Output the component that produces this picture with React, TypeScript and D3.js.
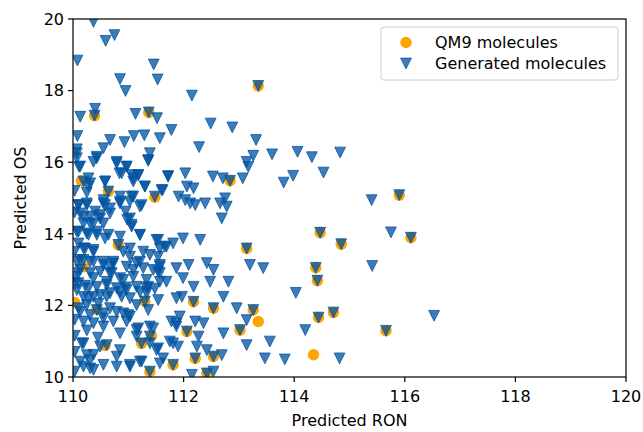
import React from "react";
import * as d3 from "d3";

const xTicks = [110, 112, 114, 116, 118, 120];
const yTicks = [10, 12, 14, 16, 18, 20];
const xLabel = "Predicted RON";
const yLabel = "Predicted OS";
const seriesNames = ["QM9 molecules", "Generated molecules"];

const qm9Points: [number, number][] = [
  [113.35, 18.13], [110.39, 17.30], [111.37, 17.39], [112.84, 15.48], [110.15, 15.48],
  [110.64, 15.18], [111.48, 15.02], [110.82, 13.69], [113.14, 13.59], [111.30, 12.11],
  [112.18, 12.10], [112.54, 11.92], [113.26, 11.87], [113.35, 11.55], [112.06, 11.27],
  [113.02, 11.31], [111.24, 10.94], [110.58, 10.88], [111.42, 11.15], [112.54, 10.57],
  [112.21, 10.52], [112.42, 10.10], [111.39, 10.15], [111.81, 10.34], [110.03, 12.08],
  [110.43, 11.89], [110.19, 13.08], [115.90, 15.08], [114.47, 14.03],
  [114.85, 13.71], [116.11, 13.89], [114.39, 13.05], [114.42, 12.69], [114.44, 11.66],
  [114.71, 11.80], [115.66, 11.29], [114.35, 10.62],
];

const generatedUpper: [number, number][] = [
  [110.37, 19.92], [110.59, 19.39], [110.75, 19.55], [110.08, 18.84], [111.46, 18.73],
  [110.85, 18.32], [111.53, 18.31], [110.95, 17.99], [113.35, 18.13], [112.15, 17.86],
  [110.40, 17.49], [110.39, 17.30], [111.37, 17.39], [110.13, 17.27], [111.13, 17.35],
  [111.52, 17.23], [112.49, 17.08], [112.88, 16.97], [111.78, 16.90], [110.08, 16.73],
  [110.67, 16.62], [110.93, 16.56], [111.10, 16.73], [111.29, 16.75], [111.57, 16.67],
  [113.31, 16.62], [112.28, 16.42], [110.55, 16.39], [110.07, 16.36], [113.26, 16.18],
  [113.60, 16.22], [113.14, 16.01], [113.17, 15.87], [112.03, 15.69], [112.53, 15.60],
  [112.71, 15.55], [112.84, 15.48], [113.07, 15.55], [112.06, 15.32], [112.18, 15.27],
  [110.43, 16.15], [110.07, 16.11], [110.37, 16.01], [110.79, 16.01], [111.36, 16.04],
  [110.11, 15.87], [110.97, 15.87], [110.84, 15.69], [111.18, 15.64], [111.09, 15.55],
  [111.72, 15.61], [110.28, 15.55], [110.28, 15.32], [110.58, 15.46], [111.30, 15.32],
  [111.62, 15.22], [110.85, 15.04], [111.09, 15.04],
];

const generatedLeftMid: [number, number][] = [
  [110.07, 16.25], [110.43, 16.11], [110.13, 15.88], [110.19, 15.46], [110.31, 15.41],
  [110.79, 15.97], [110.97, 15.88], [110.88, 15.69], [111.06, 15.64], [111.18, 15.64],
  [111.36, 16.06], [111.39, 16.25], [110.58, 15.46], [110.64, 15.18], [111.09, 15.46],
  [111.30, 15.32], [111.72, 15.60], [111.60, 15.22], [111.48, 15.04], [111.91, 15.04],
  [110.55, 14.94], [110.85, 14.90], [111.06, 15.04], [111.21, 14.76], [110.10, 14.80],
  [110.25, 14.80], [110.40, 14.62], [110.19, 14.48], [110.49, 14.43], [110.67, 14.57],
  [110.58, 14.80], [110.95, 14.62], [110.98, 14.39], [111.06, 14.20], [110.31, 14.29],
  [110.10, 14.06], [110.28, 13.97], [110.43, 13.97], [110.58, 13.87], [110.85, 13.92],
  [110.82, 13.69], [111.21, 13.97], [111.54, 13.83], [111.69, 13.64], [111.39, 13.41],
  [111.54, 13.36], [110.19, 13.59], [110.37, 13.55], [110.91, 13.50], [111.03, 13.36],
  [110.13, 13.27], [110.31, 13.22], [110.55, 13.22], [110.73, 13.17], [111.21, 13.22],
  [111.57, 13.13], [110.03, 15.20], [110.03, 14.60], [110.03, 13.50], [110.25, 15.15],
  [110.10, 14.80], [110.25, 14.85], [110.55, 14.85], [110.67, 14.71], [110.85, 14.85],
  [111.03, 14.90], [111.24, 14.80], [110.13, 14.57], [110.31, 14.48], [110.49, 14.52],
  [110.55, 14.29], [110.37, 14.29], [110.19, 14.29], [111.03, 14.43], [111.06, 14.25],
  [110.07, 14.06], [110.25, 14.01], [110.43, 14.06], [110.64, 13.97], [111.21, 13.97],
  [110.10, 13.73], [110.22, 13.59], [110.37, 13.50], [111.03, 13.59], [111.27, 13.50],
  [111.51, 13.83], [111.57, 13.59], [111.66, 13.64], [111.81, 13.73],
];

const generatedLeftLow: [number, number][] = [
  [110.13, 12.99], [110.37, 12.76], [110.61, 12.66], [110.91, 12.71], [111.09, 12.99],
  [111.33, 12.48], [111.54, 12.94], [111.57, 12.66], [111.30, 12.11], [111.54, 12.15],
  [111.87, 12.20], [110.07, 12.43], [110.28, 12.20], [110.49, 12.29], [110.67, 12.34],
  [110.85, 12.38], [111.03, 12.20], [111.15, 12.01], [110.13, 11.82], [110.31, 11.73],
  [110.55, 11.78], [110.79, 11.82], [111.00, 11.73], [110.73, 11.55], [110.55, 11.41],
  [110.85, 11.22], [111.15, 11.31], [111.45, 11.36], [111.24, 10.94], [111.39, 11.13],
  [111.54, 10.80], [111.81, 10.94], [111.87, 11.50], [110.19, 10.94], [110.61, 10.89],
  [110.85, 10.75], [110.37, 10.62], [110.13, 10.43], [110.31, 10.24], [110.55, 10.34],
  [110.79, 10.57], [111.03, 10.34], [111.24, 10.43], [111.39, 10.15], [111.81, 10.34],
  [111.63, 10.52], [110.04, 12.62], [110.22, 12.55], [110.46, 12.05], [110.95, 12.50],
  [110.25, 11.30], [110.03, 11.15], [110.45, 11.10], [110.70, 12.90], [110.03, 12.80],
  [110.03, 11.60], [110.03, 10.70], [110.03, 10.15],
  [110.07, 13.22], [110.19, 13.27], [110.37, 13.22], [110.55, 13.13], [110.67, 13.08],
  [110.73, 13.22], [110.97, 13.08], [111.15, 13.18], [111.27, 13.04], [111.45, 12.99],
  [111.57, 13.08], [111.87, 13.04], [110.10, 12.90], [110.31, 12.90], [110.49, 12.94],
  [110.67, 12.90], [110.85, 12.76], [111.09, 12.80], [111.33, 12.71], [111.57, 12.90],
  [110.10, 12.62], [110.28, 12.48], [110.43, 12.52], [110.61, 12.57], [110.79, 12.48],
  [110.97, 12.43], [111.15, 12.52], [111.36, 12.52], [111.69, 12.66], [111.21, 12.38],
  [110.88, 12.24], [110.61, 12.24], [110.37, 12.24], [110.19, 12.24], [111.33, 12.34],
  [110.10, 11.92], [110.25, 12.01], [110.43, 11.87], [110.67, 11.92], [110.91, 11.78],
  [111.03, 11.69], [111.36, 11.87], [110.55, 11.64], [110.37, 11.50], [110.19, 11.55],
  [110.97, 11.55], [111.18, 11.36], [111.39, 11.41], [111.78, 11.55], [111.87, 11.41],
  [110.16, 10.94], [110.49, 10.85], [111.39, 10.94], [111.15, 11.13], [111.51, 10.75],
  [111.75, 10.99], [111.90, 10.85], [110.25, 10.61], [110.31, 10.47], [110.19, 10.29],
  [110.37, 10.20], [110.79, 10.29], [111.03, 10.29], [111.21, 10.43], [111.57, 10.38],
  [111.48, 12.47],
];

const generatedRightMid: [number, number][] = [
  [112.03, 14.94], [112.12, 14.85], [112.21, 14.80], [112.39, 14.85], [112.66, 14.85],
  [112.75, 14.99], [112.78, 14.76], [112.69, 14.43], [111.99, 13.87], [112.30, 13.83],
  [113.14, 13.59], [113.20, 13.13], [113.44, 13.04], [112.09, 13.13], [112.42, 13.18],
  [112.54, 12.99], [111.99, 12.76], [112.18, 12.52], [112.48, 12.66], [112.81, 12.66],
  [111.97, 12.24], [112.18, 12.10], [112.54, 11.92], [112.72, 12.24], [112.96, 11.92],
  [113.26, 11.87], [113.14, 11.59], [112.06, 11.27], [112.21, 11.55], [112.36, 11.50],
  [112.72, 11.22], [113.02, 11.31], [113.14, 10.89], [113.56, 10.99], [112.24, 10.85],
  [112.27, 11.13], [112.42, 10.75], [112.54, 10.57], [112.69, 10.61], [112.15, 10.06],
  [112.21, 10.52], [112.42, 10.10], [112.54, 10.15], [113.47, 10.52], [111.93, 11.69],
];

const generatedFar: [number, number][] = [
  [114.06, 16.29], [114.32, 16.14], [114.83, 16.27], [113.98, 15.62], [113.81, 15.43],
  [114.53, 15.71], [115.40, 14.94], [115.90, 15.08], [114.47, 14.03], [114.85, 13.71],
  [115.75, 14.04], [116.11, 13.89], [115.41, 13.10], [114.39, 13.05], [114.42, 12.69],
  [114.03, 12.35], [114.44, 11.66], [114.71, 11.80], [114.20, 11.31], [115.66, 11.29],
  [116.53, 11.71], [113.83, 10.49], [114.82, 10.52],
];

const generatedPoints = [
  ...generatedUpper,
  ...generatedLeftMid,
  ...generatedLeftLow,
  ...generatedRightMid,
  ...generatedFar,
];

const W = 643;
const H = 432;
const M = { left: 73, right: 626, top: 19, bottom: 377 };
const FONT = "'DejaVu Sans', sans-serif";
const FS = 16;
const ORANGE = "#ffa500";
const BLUE = "#0053a0";

const triPath = (cx: number, cy: number, h: number) =>
  `M${cx - h},${cy - h}L${cx + h},${cy - h}L${cx},${cy + h}Z`;

export default function App() {
  const x = d3.scaleLinear().domain([110, 120]).range([M.left, M.right]);
  const y = d3.scaleLinear().domain([10, 20]).range([M.bottom, M.top]);
  const th = 5.4;

  return (
    <svg
      width={W}
      height={H}
      viewBox={`0 0 ${W} ${H}`}
      style={{ position: "absolute", left: 0, top: 0, background: "#fff" }}
      fontFamily={FONT}
    >
      <defs>
        <clipPath id="plotClip">
          <rect x={M.left} y={M.top} width={M.right - M.left} height={M.bottom - M.top} />
        </clipPath>
      </defs>
      <rect x={0} y={0} width={W} height={H} fill="#fff" />
      <g clipPath="url(#plotClip)">
        {qm9Points.map((d, i) => (
          <circle key={"q" + i} cx={x(d[0])} cy={y(d[1])} r={5.7} fill={ORANGE} />
        ))}
        {generatedPoints.map((d, i) => (
          <path
            key={"g" + i}
            d={triPath(x(d[0]), y(d[1]), th)}
            fill={BLUE}
            fillOpacity={0.76}
            stroke={BLUE}
            strokeOpacity={0.76}
            strokeWidth={1}
          />
        ))}
      </g>
      <rect
        x={M.left}
        y={M.top}
        width={M.right - M.left}
        height={M.bottom - M.top}
        fill="none"
        stroke="#000"
        strokeWidth={1.2}
      />
      {xTicks.map((t) => (
        <g key={"xt" + t}>
          <line x1={x(t)} x2={x(t)} y1={M.bottom} y2={M.bottom + 5} stroke="#000" strokeWidth={1.2} />
          <text x={x(t)} y={M.bottom + 25} textAnchor="middle" fontSize={FS} fill="#000">
            {t}
          </text>
        </g>
      ))}
      {yTicks.map((t) => (
        <g key={"yt" + t}>
          <line x1={M.left - 5} x2={M.left} y1={y(t)} y2={y(t)} stroke="#000" strokeWidth={1.2} />
          <text x={M.left - 9} y={y(t)} dy="0.36em" textAnchor="end" fontSize={FS} fill="#000">
            {t}
          </text>
        </g>
      ))}
      <text x={(M.left + M.right) / 2} y={426} textAnchor="middle" fontSize={FS} fill="#000">
        {xLabel}
      </text>
      <text
        transform={`translate(26,${(M.top + M.bottom) / 2}) rotate(-90)`}
        textAnchor="middle"
        fontSize={FS}
        fill="#000"
      >
        {yLabel}
      </text>
      <g>
        <rect x={381} y={27} width={237} height={53} rx={3} fill="#fff" fillOpacity={0.8} stroke="#cccccc" strokeWidth={1} />
        <circle cx={406} cy={42.5} r={5.7} fill={ORANGE} />
        <path d={triPath(406, 63.5, th)} fill={BLUE} fillOpacity={0.76} stroke={BLUE} strokeOpacity={0.76} strokeWidth={1} />
        <text x={435} y={42.5} dy="0.36em" fontSize={FS} fill="#000">
          {seriesNames[0]}
        </text>
        <text x={435} y={63.5} dy="0.36em" fontSize={FS} fill="#000">
          {seriesNames[1]}
        </text>
      </g>
    </svg>
  );
}
